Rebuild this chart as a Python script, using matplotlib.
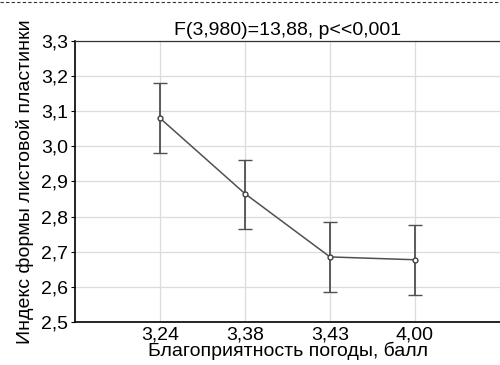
import matplotlib
matplotlib.use("Agg")
import matplotlib.pyplot as plt
from matplotlib.lines import Line2D

plt.rcParams['font.family'] = ['Liberation Sans', 'DejaVu Sans']
plt.rcParams['font.size'] = 14

categories = ["3,24", "3,38", "3,43", "4,00"]
means = [3.08, 2.865, 2.685, 2.677]
err_low = [0.10, 0.10, 0.10, 0.10]
err_high = [0.10, 0.097, 0.10, 0.098]
yticks = [2.5, 2.6, 2.7, 2.8, 2.9, 3.0, 3.1, 3.2, 3.3]

fig = plt.figure(figsize=(5.0, 3.65), dpi=100)
ax = fig.add_axes([0.15, 0.118, 0.85, 0.77])

x = list(range(1, len(categories) + 1))
ax.errorbar(x, means, yerr=[err_low, err_high], color='#505050', lw=1.1,
            elinewidth=1.3, capsize=5, capthick=1.3, marker='o', ms=3.5,
            mfc='white', mec='#404040', mew=1.0, zorder=3)

ax.set_xlim(0, 5)
ax.set_ylim(2.5, 3.3)
ax.set_xticks(x)
ax.set_xticklabels(categories)
ax.set_yticks(yticks)
ax.set_yticklabels([("%.1f" % v).replace('.', ',') for v in yticks])
ax.grid(True, color='#dcdcdc', lw=0.9)
ax.set_axisbelow(True)
ax.tick_params(axis='y', length=3, width=0.8, pad=2)
ax.tick_params(axis='x', length=0, pad=3)
ax.spines['left'].set_linewidth(1.2)
ax.spines['bottom'].set_linewidth(1.2)
ax.spines['top'].set_linewidth(0.9)
ax.spines['top'].set_color('#333333')
ax.spines['right'].set_visible(False)

ax.set_title("F(3,980)=13,88, p<<0,001", fontsize=14, pad=4)
ax.set_xlabel("Благоприятность погоды, балл", labelpad=-1)
ax.set_ylabel("Индекс формы листовой пластинки", labelpad=5)

fig.add_artist(Line2D([0, 1], [0.994, 0.994], transform=fig.transFigure,
                      color='#333333', lw=0.8, ls=(0, (3, 2))))

fig.savefig("out.png", dpi=100)
